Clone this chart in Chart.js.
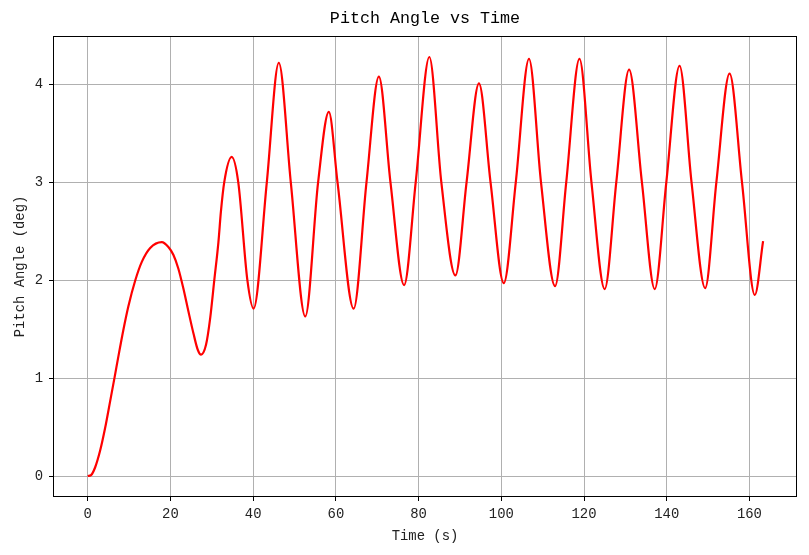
<!DOCTYPE html>
<html>
<head>
<meta charset="utf-8">
<script src="https://cdn.jsdelivr.net/npm/chart.js@4/dist/chart.umd.min.js"></script>
<style>
  html, body { margin: 0; padding: 0; background: #fff; }
  canvas { display: block; }
</style>
</head>
<body>
<canvas id="c" width="809" height="555" style="width:809px;height:555px"></canvas>
<script>
// Time (s) values
const timeValues = [
  0, 0.8, 1.8, 3.0, 4.2, 5.4, 6.5, 7.4, 8.6, 9.8,
  11.5, 13.1, 15.1, 17.9, 19.5, 20.7, 21.9, 23.1, 24.3, 25.6,
  26.6, 27.4, 28.6, 29.6, 30.6, 31.6, 32.2, 33.0, 34.8, 36.4,
  38.6, 40.1, 43.3, 46.2, 49.1, 52.6, 55.7, 58.3, 60.4, 64.3,
  67.4, 70.4, 73.2, 76.5, 79.3, 82.6, 85.5, 88.9, 91.6, 94.6,
  97.4, 100.6, 103.5, 106.7, 109.6, 113.0, 115.7, 118.9, 121.8, 125.0,
  127.8, 130.9, 134.0, 137.1, 139.9, 143.1, 146.0, 149.3, 152.0, 155.2,
  158.2, 161.3, 163.3
];
// Pitch Angle (deg) values
const pitchValues = [
  0, 0.01, 0.09, 0.26, 0.49, 0.76, 1.01, 1.22, 1.49, 1.73,
  2.00, 2.19, 2.33, 2.39, 2.34, 2.26, 2.12, 1.92, 1.69, 1.45,
  1.29, 1.24, 1.34, 1.61, 2.00, 2.39, 2.70, 3.00, 3.26, 3.00,
  2.00, 1.71, 3.00, 4.22, 3.00, 1.63, 3.00, 3.72, 3.00, 1.71,
  3.00, 4.08, 3.00, 1.95, 3.00, 4.28, 3.00, 2.05, 3.00, 4.01,
  3.00, 1.97, 3.00, 4.26, 3.00, 1.94, 3.00, 4.26, 3.00, 1.91,
  3.00, 4.15, 3.00, 1.91, 3.00, 4.19, 3.00, 1.92, 3.00, 4.11,
  3.00, 1.85, 2.40
];
// Tick values
const xTickValues = [0, 20, 40, 60, 80, 100, 120, 140, 160];
const yTickValues = [0, 1, 2, 3, 4];
const xRange = [-8.4, 171.5];
const yRange = [-0.214, 4.494];

const titleText = 'Pitch Angle vs Time';
const xLabel = 'Time (s)';
const yLabel = 'Pitch Angle (deg)';

const points = timeValues.map((t, i) => ({ x: t, y: pitchValues[i] }));

const FONT = "'Liberation Mono', 'DejaVu Sans Mono', monospace";

const framePlugin = {
  id: 'frame',
  afterDatasetsDraw(chart) {
    const a = chart.chartArea;
    const ctx = chart.ctx;
    ctx.save();
    ctx.strokeStyle = '#000';
    ctx.lineWidth = 1;
    ctx.strokeRect(Math.round(a.left) + 0.5, Math.round(a.top) + 0.5,
                   Math.round(a.right - a.left) - 1, Math.round(a.bottom - a.top) - 1);
    ctx.restore();
  }
};

new Chart(document.getElementById('c'), {
  type: 'line',
  data: {
    datasets: [{
      data: points,
      borderColor: '#ff0000',
      borderWidth: 2.2,
      pointRadius: 0,
      fill: false,
      cubicInterpolationMode: 'monotone'
    }]
  },
  options: {
    responsive: false,
    animation: false,
    layout: { padding: { left: 0, right: 12, top: 0, bottom: 0 } },
    plugins: {
      legend: { display: false },
      tooltip: { enabled: false },
      title: {
        display: true,
        fullSize: false,
        text: titleText,
        color: '#000',
        font: { family: FONT, size: 16.7, weight: 'normal' },
        padding: { top: 9, bottom: 7 }
      }
    },
    scales: {
      x: {
        type: 'linear',
        min: xRange[0],
        max: xRange[1],
        afterBuildTicks(s) { s.ticks = xTickValues.map(v => ({ value: v })); },
        afterFit(s) { s.height = 58; s.paddingLeft = 0; s.paddingRight = 0; },
        ticks: {
          color: '#222',
          padding: 5,
          maxRotation: 0,
          autoSkip: false,
          font: { family: FONT, size: 13.9 }
        },
        grid: { color: '#b0b0b0', lineWidth: 1, tickColor: '#000', tickLength: 4, drawTicks: true },
        border: { display: false },
        title: {
          display: true,
          text: xLabel,
          color: '#222',
          font: { family: FONT, size: 13.9 },
          padding: { top: 0, bottom: 10.5 }
        }
      },
      y: {
        type: 'linear',
        min: yRange[0],
        max: yRange[1],
        afterBuildTicks(s) { s.ticks = yTickValues.map(v => ({ value: v })); },
        afterFit(s) { s.width = 53; s.paddingTop = 0; s.paddingBottom = 0; },
        ticks: {
          color: '#222',
          padding: 6,
          autoSkip: false,
          font: { family: FONT, size: 13.9 }
        },
        grid: { color: '#b0b0b0', lineWidth: 1, tickColor: '#000', tickLength: 4, drawTicks: true },
        border: { display: false },
        title: {
          display: true,
          text: yLabel,
          color: '#222',
          font: { family: FONT, size: 13.9 },
          padding: { top: 11.5, bottom: 0 }
        }
      }
    }
  },
  plugins: [framePlugin]
});
</script>
</body>
</html>
